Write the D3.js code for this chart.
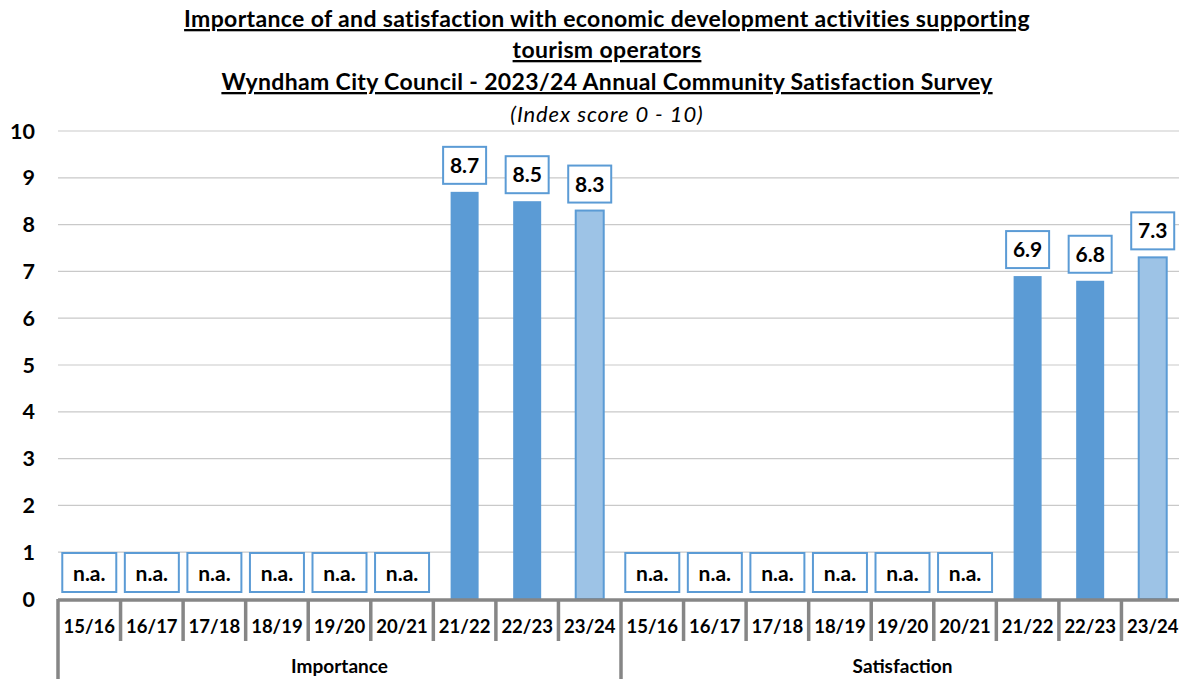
<!DOCTYPE html>
<html>
<head>
<meta charset="utf-8">
<script src="https://cdn.jsdelivr.net/npm/d3@7"></script>
<style>
  html, body { margin: 0; padding: 0; background: #fff; }
  svg { display: block; font-family: Lato, "Open Sans", sans-serif; }
</style>
</head>
<body>
<svg id="chart" width="1179" height="679"></svg>
<script>
const titleLines = [
  "Importance of and satisfaction with economic development activities supporting",
  "tourism operators",
  "Wyndham City Council - 2023/24 Annual Community Satisfaction Survey"
];
const subtitle = "(Index score 0 - 10)";
const groups = ["Importance", "Satisfaction"];
const years = ["15/16", "16/17", "17/18", "18/19", "19/20", "20/21", "21/22", "22/23", "23/24"];
const importanceValues = [null, null, null, null, null, null, 8.7, 8.5, 8.3];
const satisfactionValues = [null, null, null, null, null, null, 6.9, 6.8, 7.3];
const yTicks = [0, 1, 2, 3, 4, 5, 6, 7, 8, 9, 10];

(function () {
const seriesValues = { Importance: importanceValues, Satisfaction: satisfactionValues };
const rows = [];
groups.forEach(g => years.forEach((y, i) => rows.push({ group: g, year: y, idx: i, key: g + "|" + y, value: seriesValues[g][i] })));

const svg = d3.select("#chart");
const W = 1179, H = 679;
const pLeft = 58, pRight = 1184, pTop = 131, pBottom = 599;

const x = d3.scaleBand().domain(rows.map(d => d.key)).range([pLeft, pRight]).paddingInner(0).paddingOuter(0);
const yScale = d3.scaleLinear().domain([0, 10]).range([pBottom, pTop]);

const dark = "#5B9BD5", light = "#9DC3E6", grid = "#C9C9C9", axisGray = "#868686";

// Title
const titleY = [27, 58, 90];
titleLines.forEach((t, i) => {
  svg.append("text").attr("x", 607).attr("y", titleY[i])
    .attr("text-anchor", "middle").attr("font-size", 23).attr("font-weight", "bold")
    .attr("letter-spacing", 0.35)
    .attr("text-decoration", "underline").attr("fill", "#000").text(t);
});
svg.append("text").attr("x", 607).attr("y", 122).attr("text-anchor", "middle")
  .attr("font-size", 22).attr("font-style", "italic").attr("letter-spacing", 0.9)
  .attr("fill", "#000").text(subtitle);

// Gridlines
svg.append("g").selectAll("line").data(yTicks.filter(t => t > 0)).join("line")
  .attr("x1", pLeft).attr("x2", W)
  .attr("y1", d => yScale(d)).attr("y2", d => yScale(d))
  .attr("stroke", grid).attr("stroke-width", 1.2);

// Y labels
svg.append("g").selectAll("text").data(yTicks).join("text")
  .attr("x", 35).attr("y", d => yScale(d) + 7.5).attr("text-anchor", "end")
  .attr("font-size", 21.5).attr("font-weight", "bold").attr("fill", "#000").text(d => d);

// Bars
const bw = 28;
svg.append("g").selectAll("rect").data(rows.filter(d => d.value != null)).join("rect")
  .attr("x", d => x(d.key) + x.bandwidth() / 2 - bw / 2)
  .attr("y", d => yScale(d.value))
  .attr("width", bw)
  .attr("height", d => pBottom - yScale(d.value))
  .attr("fill", d => d.year === "23/24" ? light : dark)
  .attr("stroke", d => d.year === "23/24" ? dark : "none")
  .attr("stroke-width", 2);

// Labels
const lab = svg.append("g").selectAll("g").data(rows).join("g")
  .attr("transform", d => {
    const cx = x(d.key) + x.bandwidth() / 2;
    const v = d.value == null ? 0 : d.value;
    return `translate(${cx},${yScale(v) - (d.value == null ? 7 : 8)})`;
  });
lab.append("rect")
  .attr("x", d => d.value == null ? -27 : -21.5)
  .attr("y", d => d.value == null ? -39 : -37)
  .attr("width", d => d.value == null ? 54 : 43)
  .attr("height", d => d.value == null ? 39 : 37)
  .attr("fill", "#fff").attr("stroke", dark).attr("stroke-width", 2);
lab.append("text").attr("x", 0).attr("y", -11)
  .attr("text-anchor", "middle").attr("font-size", 21)
  .attr("font-weight", "bold").attr("fill", "#000")
  .text(d => d.value == null ? "n.a." : d3.format(".1f")(d.value));

// X axis line
svg.append("line").attr("x1", pLeft).attr("x2", W).attr("y1", pBottom + 1).attr("y2", pBottom + 1)
  .attr("stroke", axisGray).attr("stroke-width", 3.5);

// Category ticks
const boundaries = d3.range(rows.length + 1).map(i => pLeft + i * x.bandwidth());
svg.append("g").selectAll("line").data(boundaries).join("line")
  .attr("x1", d => d).attr("x2", d => d)
  .attr("y1", pBottom).attr("y2", (d, i) => (i % years.length === 0) ? H : 641)
  .attr("stroke", axisGray).attr("stroke-width", 3.5);

// Year labels
svg.append("g").selectAll("text").data(rows).join("text")
  .attr("x", d => x(d.key) + x.bandwidth() / 2).attr("y", 633)
  .attr("text-anchor", "middle").attr("font-size", 18.5).attr("font-weight", "bold")
  .attr("fill", "#000").text(d => d.year);

// Group labels
svg.append("g").selectAll("text").data(groups).join("text")
  .attr("x", g => {
    const ks = rows.filter(r => r.group === g);
    return (x(ks[0].key) + x(ks[ks.length - 1].key) + x.bandwidth()) / 2;
  })
  .attr("y", 673).attr("text-anchor", "middle").attr("font-size", 19).attr("font-weight", "bold")
  .attr("fill", "#000").text(g => g);
})();
</script>
</body>
</html>
